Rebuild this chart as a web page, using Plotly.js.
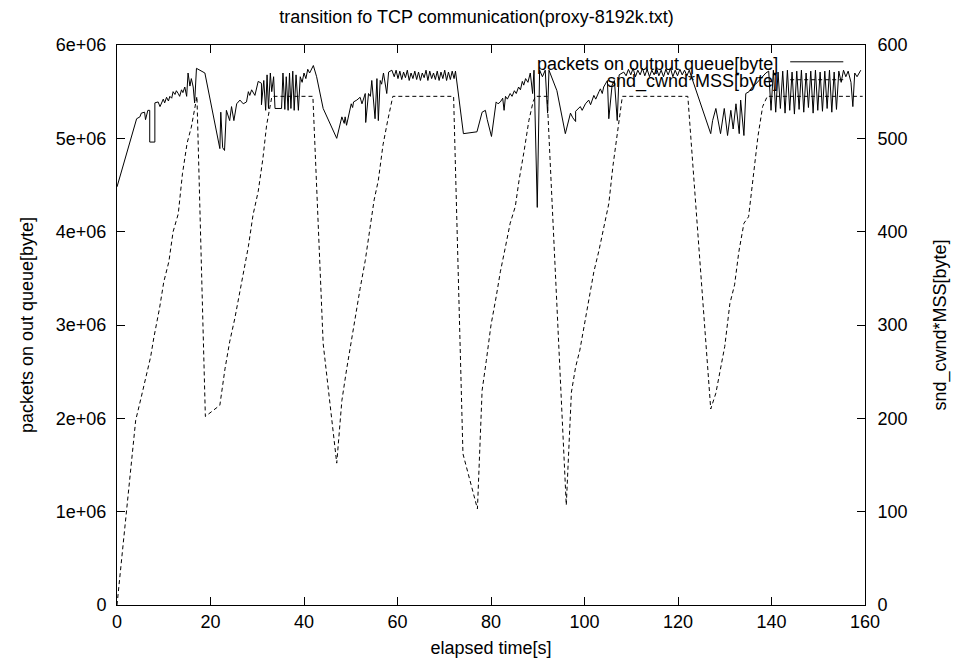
<!DOCTYPE html>
<html>
<head>
<meta charset="utf-8">
<script src="https://cdn.plot.ly/plotly-3.0.1.min.js"></script>
<style>html,body{margin:0;padding:0;background:#fff}#chart{width:953px;height:667px}</style>
</head>
<body>
<div id="chart"></div>
<script>
// packets on output queue [byte] (left axis), time in seconds, value in 1e6 bytes
const queueTime = [0,4.2,4.9,5.2,5.9,6.1,6.6,7.0,7.0,8.1,8.1,8.8,9.2,9.5,9.9,10.2,10.6,11.0,11.3,11.7,12.0,12.4,12.7,13.1,13.4,13.8,14.1,14.5,14.9,15.2,15.6,15.9,16.3,16.6,17.0,18.8,
22.0,22.2,22.6,23.0,23.4,24.1,24.5,25.0,25.6,26.3,27.0,27.7,28.1,28.4,28.8,29.5,30.2,30.9,30.9,31.4,
31.8,32.1,32.4,32.8,33.1,33.5,33.8,35.2,35.5,35.9,36.2,36.6,36.9,37.2,37.6,37.9,38.3,38.8,
39.2,39.6,40.0,40.4,40.8,41.2,41.6,42.0,42.7,44.1,47.0,48.1,48.6,48.8,49.1,50.1,50.4,50.6,51.3,52.0,52.4,53.1,53.2,53.8,54.2,54.5,55.2,55.6,55.9,56.3,56.6,57.0,57.7,58.1,58.8,
59.3,59.7,60.1,60.5,60.9,61.3,61.7,62.1,62.5,62.9,63.3,63.7,64.1,64.5,64.9,65.3,65.7,66.1,66.5,66.9,67.3,67.7,68.1,68.5,68.9,69.3,69.7,70.1,70.5,70.9,71.3,71.7,72.1,72.4,
74.1,77.0,77.7,78.1,78.8,79.2,80.1,81.1,81.5,82.0,82.5,82.8,83.1,83.5,84.1,84.5,85.0,85.4,85.9,86.3,86.7,87.0,87.4,87.9,88.4,88.9,89.2,89.9,90.4,91.0,91.6,92.1,92.4,94.1,95.9,
97.0,97.5,98.1,98.1,99.1,99.5,100.2,100.9,101.3,102.0,102.4,103.1,103.4,103.8,104.1,104.9,105.2,105.9,106.4,107.0,107.4,108.4,
108.9,109.4,109.9,110.4,110.9,111.4,111.9,112.4,112.9,113.4,113.9,114.4,114.9,115.4,115.9,116.4,116.9,117.4,117.9,118.4,118.9,119.4,119.9,120.4,120.9,121.4,121.9,122.4,
127.0,127.4,128.1,129.1,129.9,130.6,131.3,131.8,132.4,133.1,133.4,134.1,134.5,135.2,135.9,136.6,137.3,138.0,138.8,
139.4,139.9,140.4,140.9,141.4,141.9,142.4,142.9,143.4,143.9,144.4,144.9,145.4,145.9,146.4,146.9,147.4,147.9,148.4,148.9,149.4,149.9,150.4,150.9,151.4,151.9,152.4,152.9,153.4,153.9,154.4,154.9,155.4,155.9,156.4,157.0,157.4,157.8,158.3,159.1];
const queueMB = [4.48,5.21,5.23,5.27,5.28,5.20,5.30,5.30,4.96,4.96,5.38,5.39,5.34,5.37,5.42,5.38,5.44,5.40,5.45,5.43,5.50,5.47,5.51,5.48,5.45,5.52,5.49,5.55,5.45,5.70,5.56,5.64,5.55,5.38,5.75,5.70,
4.89,5.28,4.90,4.87,5.30,5.19,5.34,5.19,5.37,5.41,5.37,5.39,5.50,5.46,5.52,5.46,5.61,5.59,5.36,5.62,
5.30,5.68,5.32,5.70,5.50,5.66,5.32,5.32,5.70,5.31,5.66,5.30,5.70,5.32,5.72,5.30,5.68,5.30,
5.66,5.60,5.70,5.64,5.74,5.70,5.75,5.78,5.66,5.32,5.00,5.23,5.16,5.23,5.14,5.37,5.33,5.39,5.41,5.44,5.37,5.48,5.17,5.48,5.45,5.62,5.21,5.64,5.19,5.62,5.58,5.70,5.48,5.71,5.73,
5.66,5.73,5.64,5.72,5.63,5.71,5.65,5.73,5.62,5.70,5.64,5.72,5.63,5.71,5.62,5.70,5.65,5.73,5.62,5.72,5.64,5.70,5.63,5.72,5.62,5.71,5.64,5.73,5.62,5.71,5.63,5.72,5.64,5.72,
5.05,5.07,5.19,5.28,5.30,5.20,5.02,5.39,5.37,5.39,5.43,5.30,5.45,5.42,5.48,5.45,5.51,5.48,5.55,5.52,5.61,5.57,5.64,5.60,5.70,5.48,5.73,4.26,5.73,5.66,5.73,5.27,5.73,5.51,5.05,
5.27,5.22,5.18,5.29,5.34,5.30,5.37,5.41,5.36,5.46,5.42,5.50,5.53,5.48,5.55,5.62,5.21,5.57,5.62,5.19,5.68,5.71,
5.67,5.74,5.68,5.75,5.66,5.73,5.68,5.75,5.67,5.74,5.66,5.73,5.68,5.75,5.67,5.73,5.66,5.74,5.68,5.75,5.66,5.73,5.67,5.74,5.68,5.73,5.67,5.73,
5.05,5.19,5.32,5.05,5.32,5.03,5.30,5.10,5.37,5.05,5.41,5.03,5.48,5.50,5.55,5.58,5.62,5.66,5.70,
5.72,5.30,5.73,5.28,5.71,5.32,5.72,5.27,5.73,5.30,5.71,5.26,5.72,5.31,5.73,5.28,5.70,5.33,5.72,5.27,5.73,5.30,5.71,5.29,5.72,5.32,5.73,5.28,5.71,5.31,5.72,5.60,5.73,5.66,5.72,5.60,5.34,5.70,5.66,5.73];

// snd_cwnd*MSS [byte] (right axis)
const cwndTime = [0,4.0,5.2,6.1,7.2,7.9,9.1,10.0,11.1,12.0,13.1,14.0,15.0,15.9,16.9,17.1,18.9,22.0,23.1,24.1,25.2,26.1,27.1,28.1,29.1,30.2,31.2,32.0,33.1,33.3,41.9,44.1,47.0,
48.1,49.1,50.0,50.9,52.0,53.1,54.0,55.0,55.9,56.9,57.9,59.0,72.0,74.0,77.1,
78.1,79.0,80.0,81.1,82.0,83.1,84.1,85.2,86.0,87.1,88.1,89.0,89.5,92.0,96.1,
97.2,98.1,99.0,100.0,101.0,102.0,103.1,104.1,105.2,106.1,107.0,107.9,108.1,122.1,127.0,
128.1,129.1,130.0,131.1,132.1,133.0,134.1,135.1,136.1,137.1,138.1,139.1,159.5];
const cwndVal = [0,198,223,241,266,287,318,346,368,400,419,462,495,512,539,545,202,214,253,282,307,332,357,384,418,443,478,514,544,545,545,280,152,
219,252,280,309,339,369,398,434,455,493,519,545,545,162,103,
230,262,300,330,357,384,409,427,455,487,519,539,545,545,107,
228,255,273,300,330,357,380,405,430,471,505,543,545,545,210,
227,252,277,323,343,378,409,416,462,502,534,545,545];

const xTicks = [0,20,40,60,80,100,120,140,160];
const yTicks = [0,1e6,2e6,3e6,4e6,5e6,6e6];
const yTickText = ['0','1e+06','2e+06','3e+06','4e+06','5e+06','6e+06'];
const y2Ticks = [0,100,200,300,400,500,600];

const seriesNames = ['packets on output queue[byte]','snd_cwnd*MSS[byte]'];

const font = {family: '"Liberation Sans", Arial, sans-serif', size: 18, color: '#000'};

const traces = [
  {x: queueTime, y: queueMB.map(v => v * 1e6), type: 'scatter', mode: 'lines',
   line: {color: '#000', width: 1}, name: seriesNames[0], yaxis: 'y', showlegend: false},
  {x: cwndTime, y: cwndVal, type: 'scatter', mode: 'lines',
   line: {color: '#000', width: 1, dash: '4px,3px'}, name: seriesNames[1], yaxis: 'y2', showlegend: false}
];

const axisCommon = {showgrid: false, zeroline: false, showline: true, linecolor: '#000', linewidth: 1,
  ticks: 'inside', ticklen: 8, tickcolor: '#000', tickfont: font};

const layout = {
  width: 953, height: 667,
  paper_bgcolor: '#fff', plot_bgcolor: '#fff',
  margin: {l: 117, r: 88, t: 45, b: 62},
  font: font,
  title: {text: 'transition fo TCP communication(proxy-8192k.txt)', font: font, x: 0.5, xanchor: 'center', y: 0.975, yanchor: 'middle'},
  xaxis: Object.assign({}, axisCommon, {range: [0,160], tickvals: xTicks, mirror: 'ticks',
    title: {text: 'elapsed time[s]', font: font, standoff: 10}}),
  yaxis: Object.assign({}, axisCommon, {range: [0,6e6], tickvals: yTicks, ticktext: yTickText, mirror: true,
    ticklabelstandoff: 6,
    title: {text: 'packets on out queue[byte]', font: font, standoff: 17}}),
  yaxis2: Object.assign({}, axisCommon, {range: [0,600], tickvals: y2Ticks, overlaying: 'y', side: 'right',
    ticklabelstandoff: 8,
    title: {text: 'snd_cwnd*MSS[byte]', font: font, standoff: 26}}),
  showlegend: false,
  annotations: [
    {xref: 'paper', yref: 'paper', x: 0.886, y: 0.966, xanchor: 'right', yanchor: 'middle', text: seriesNames[0], showarrow: false, font: font},
    {xref: 'paper', yref: 'paper', x: 0.886, y: 0.934, xanchor: 'right', yanchor: 'middle', text: seriesNames[1], showarrow: false, font: font}
  ],
  shapes: [
    {type: 'line', xref: 'paper', yref: 'paper', x0: 0.900, x1: 0.971, y0: 0.970, y1: 0.970, line: {color: '#000', width: 1}},
    {type: 'line', xref: 'paper', yref: 'paper', x0: 0.900, x1: 0.971, y0: 0.938, y1: 0.938, line: {color: '#000', width: 1, dash: '4px,3px'}}
  ]
};

Plotly.newPlot('chart', traces, layout, {displayModeBar: false, staticPlot: true});
</script>
</body>
</html>
